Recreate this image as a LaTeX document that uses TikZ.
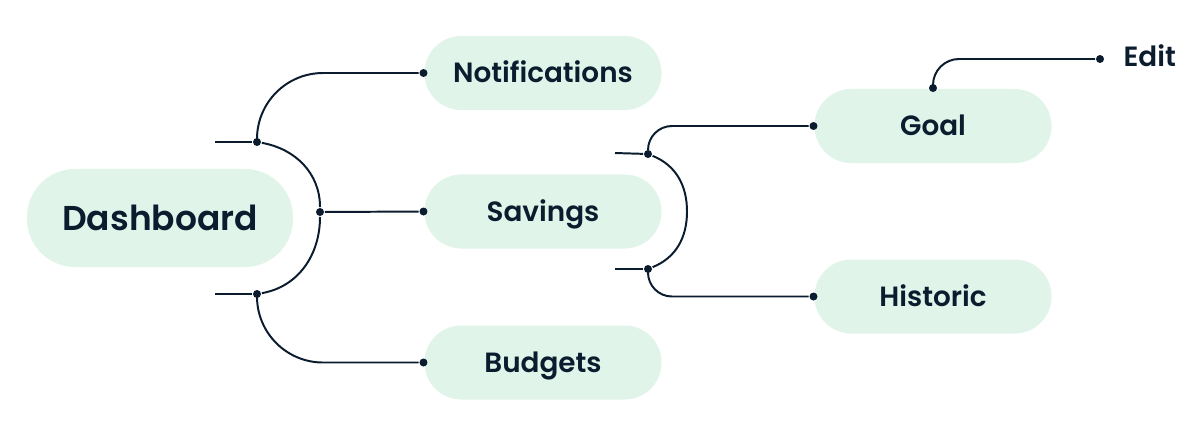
\documentclass[tikz,border=0pt]{standalone}
\usepackage{fontspec}
\setmainfont{Poppins}[BoldFont={* SemiBold}]
\usetikzlibrary{positioning}
\definecolor{mint}{HTML}{E1F4EA}
\definecolor{navy}{HTML}{0B1C2E}
\begin{document}
\begin{tikzpicture}[x=0.025cm, y=-0.025cm, line width=1.4pt, draw=navy,
    main node/.style={rectangle, rounded corners=1.2cm, fill=mint, text=navy, minimum width=6.65cm, minimum height=2.45cm, inner sep=0, text height=17.1pt, text depth=0pt, font=\bfseries\fontsize{24.5}{28}\selectfont},
    sub node/.style={rectangle, rounded corners=0.92cm, fill=mint, text=navy, minimum width=5.925cm, minimum height=1.85cm, inner sep=0, text height=13.9pt, text depth=0pt, font=\bfseries\fontsize{19.8}{23}\selectfont},
    dot node/.style={circle, fill=navy, minimum size=0.2cm, inner sep=0},
    label text/.style={text=navy, inner sep=0, anchor=west, text height=13.9pt, text depth=0pt, font=\bfseries\fontsize{19.8}{23}\selectfont}]
    \useasboundingbox (0,0) rectangle (1200,430);

    \node[main node] at (160, 218) (dash) {Dashboard};
    \node[sub node] at (543, 73) (notif) {Notifications};
    \node[sub node] at (543, 211.5) (sav) {Savings};
    \node[sub node] at (543, 362.5) (bud) {Budgets};
    \node[sub node] at (933, 126) (goal) {Goal};
    \node[sub node] at (933, 296.5) (hist) {Historic};

    % dots
    \node[dot node] at (notif.west) (ndot) {};
    \node[dot node] at (sav.west) (sdot) {};
    \node[dot node] at (bud.west) (bdot) {};
    \node[dot node] at (goal.west) (gdot) {};
    \node[dot node] at (hist.west) (hdot) {};
    \node[dot node] at (goal.north) (gtop) {};
    \node[dot node] at (1100, 59) (edot) {};
    \node[label text, right=0.44cm of edot, yshift=0.06cm] (edit) {Edit};

    % left bracket
    \node[dot node] at (257, 142) (lu) {};
    \node[dot node] at (320, 212) (lm) {};
    \node[dot node] at (257, 294) (ll) {};
    \coordinate (lt0) at (215, 142);
    \coordinate (lb0) at (215, 294);
    \draw (lt0) -- (lu);
    \draw (lb0) -- (ll);
    \draw (lu) to[out=-10, in=90] (lm) to[out=-90, in=10] (ll);
    \draw[rounded corners=1.65cm] (lu) |- (ndot);
    \draw (lm) -- (sdot);
    \draw[rounded corners=1.65cm] (ll) |- (bdot);

    % right bracket
    \node[dot node] at (648, 154) (ru) {};
    \node[dot node] at (648, 269) (rl) {};
    \coordinate (rm) at (687, 211.5);
    \coordinate (rt0) at (615, 153);
    \coordinate (rb0) at (615, 269);
    \draw (rt0) -- (ru);
    \draw (rb0) -- (rl);
    \draw (ru) to[out=-22, in=90] (rm) to[out=-90, in=22] (rl);
    \draw[rounded corners=0.6cm] (ru) |- (gdot);
    \draw[rounded corners=0.6cm] (rl) |- (hdot);

    \draw[rounded corners=0.65cm] (gtop) |- (edot);
\end{tikzpicture}
\end{document}
